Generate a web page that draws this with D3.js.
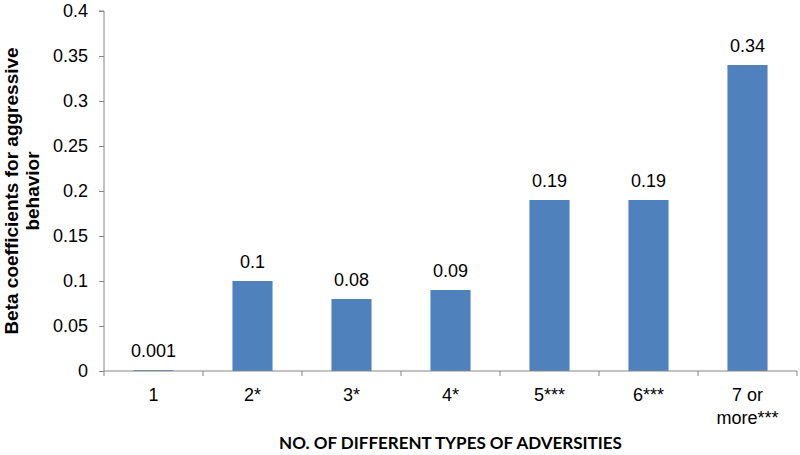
<!DOCTYPE html>
<meta charset="utf-8">
<style>
body { margin: 0; background: #fff; }
text { font-family: "Liberation Sans", Arial, sans-serif; }
.axis path, .axis line { stroke: #868686; }
</style>
<body>
<script src="https://cdn.jsdelivr.net/npm/d3@7/dist/d3.min.js"></script>
<script>

// data
var categories = ["1", "2*", "3*", "4*", "5***", "6***", "7 or\nmore***"];
var betas = [0.001, 0.1, 0.08, 0.09, 0.19, 0.19, 0.34];
var valueLabels = ["0.001", "0.1", "0.08", "0.09", "0.19", "0.19", "0.34"];
var yTicks = [0, 0.05, 0.1, 0.15, 0.2, 0.25, 0.3, 0.35, 0.4];

var margin = {top: 11, right: 3, bottom: 84, left: 104},
    width = 800 - margin.left - margin.right,
    height = 455 - margin.top - margin.bottom;

var svg = d3.select("body").append("svg")
    .attr("width", 800)
    .attr("height", 455)
  .append("g")
    .attr("transform", "translate(" + margin.left + "," + margin.top + ")");

var x = d3.scaleBand().domain(categories).range([0, width]);
var y = d3.scaleLinear().domain([0, 0.4]).range([height, 0]);
var barW = x.bandwidth() * 0.405;

// bars
svg.selectAll(".bar")
    .data(betas)
  .enter().append("rect")
    .attr("class", "bar")
    .attr("x", function(d, i) { return x(categories[i]) + (x.bandwidth() - barW) / 2; })
    .attr("y", function(d) { return y(d); })
    .attr("width", barW)
    .attr("height", function(d) { return height - y(d); })
    .style("fill", "#4F81BD");

// value labels
svg.selectAll(".val")
    .data(betas)
  .enter().append("text")
    .attr("class", "val")
    .attr("x", function(d, i) { return x(categories[i]) + x.bandwidth() / 2; })
    .attr("y", function(d) { return y(d) - 13; })
    .attr("text-anchor", "middle")
    .style("font-size", "18px")
    .style("fill", "#000")
    .text(function(d, i) { return valueLabels[i]; });

// y axis
var yAxis = svg.append("g")
    .attr("class", "axis")
    .call(d3.axisLeft(y).tickValues(yTicks).tickSize(5).tickPadding(11)
      .tickFormat(function(d) { return d3.format("")(+d.toFixed(2)); }));
yAxis.select(".domain").attr("d", "M-5," + y(0.4) + "H0V" + height);
yAxis.selectAll("text").style("font-size", "18px").style("fill", "#000");

// x axis, ticks between categories
var xg = svg.append("g")
    .attr("class", "axis")
    .attr("transform", "translate(0," + height + ")");
xg.append("path")
    .attr("d", "M0,0H" + width)
    .style("fill", "none");
xg.selectAll(".tk")
    .data(d3.range(categories.length + 1))
  .enter().append("line")
    .attr("x1", function(i) { return i * x.step(); })
    .attr("x2", function(i) { return i * x.step(); })
    .attr("y1", 0).attr("y2", 5);

xg.selectAll(".cat")
    .data(categories)
  .enter().append("text")
    .attr("class", "cat")
    .attr("text-anchor", "middle")
    .style("font-size", "18px")
    .style("fill", "#000")
    .each(function(d) {
      var t = d3.select(this);
      d.split("\n").forEach(function(line, j) {
        t.append("tspan")
          .attr("x", x(d) + x.bandwidth() / 2)
          .attr("y", 30 + j * 23)
          .text(line);
      });
    });

// axis titles
var yTitle = ["Beta coefficients for aggressive", "behavior"];
svg.selectAll(".ytitle")
    .data(yTitle)
  .enter().append("text")
    .attr("class", "ytitle")
    .attr("transform", "rotate(-90)")
    .attr("x", -180)
    .attr("y", function(d, i) { return -margin.left + 18 + i * 21; })
    .attr("text-anchor", "middle")
    .style("font-size", "19px")
    .style("font-weight", "bold")
    .text(function(d) { return d; });

svg.append("text")
    .attr("x", width / 2)
    .attr("y", height + 78)
    .attr("text-anchor", "middle")
    .style("font-family", "Lato, 'Open Sans', sans-serif")
    .style("font-size", "17px")
    .style("font-weight", "bold")
    .text("NO. OF DIFFERENT TYPES OF ADVERSITIES");

</script>
</body>
</html>
